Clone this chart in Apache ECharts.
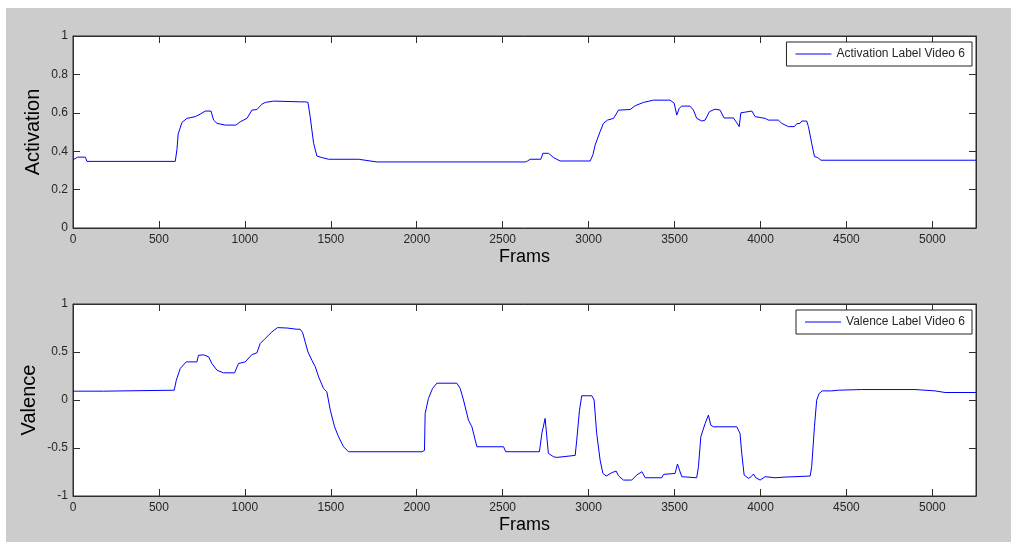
<!DOCTYPE html>
<html>
<head>
<meta charset="utf-8">
<script src="https://cdn.jsdelivr.net/npm/echarts@6/dist/echarts.min.js"></script>
<style>
  html, body { margin: 0; padding: 0; background: #ffffff; }
  #main { position: absolute; left: 6px; top: 8px; width: 1005px; height: 534px; }
</style>
</head>
<body>
<div id="main"></div>
<script>
// activation label, video 6 (frame)
var actFrames = [0, 27, 72, 81, 595, 605, 612, 634, 663, 711, 740, 770, 803, 818, 838, 886, 948, 973, 1012, 1041,
  1070, 1099, 1119, 1167, 1322, 1351, 1367, 1380, 1390, 1400, 1419, 1448, 1487, 1661, 1671, 1768, 2631, 2645, 2660, 2722,
  2734, 2767, 2796, 2834, 3009, 3025, 3038, 3067, 3086, 3110, 3145, 3174, 3242, 3271, 3319, 3377, 3474, 3498, 3513, 3527,
  3542, 3590, 3610, 3629, 3659, 3678, 3703, 3736, 3765, 3788, 3843, 3862, 3876, 3886, 3897, 3950, 3969, 4027, 4046, 4104,
  4124, 4162, 4197, 4211, 4230, 4240, 4269, 4279, 4298, 4314, 4333, 4352, 5254];
var actValues = [0.355, 0.369, 0.369, 0.347, 0.347, 0.41, 0.49, 0.55, 0.571, 0.58, 0.593, 0.609, 0.609, 0.562, 0.545, 0.536, 0.536, 0.553, 0.571, 0.614,
  0.617, 0.645, 0.654, 0.661, 0.657, 0.657, 0.655, 0.58, 0.51, 0.441, 0.375, 0.367, 0.358, 0.358, 0.349, 0.344, 0.344, 0.349, 0.358, 0.358,
  0.389, 0.389, 0.367, 0.349, 0.349, 0.381, 0.432, 0.502, 0.545, 0.562, 0.571, 0.614, 0.617, 0.637, 0.654, 0.666, 0.666, 0.65, 0.588, 0.623,
  0.635, 0.635, 0.614, 0.571, 0.557, 0.562, 0.606, 0.619, 0.614, 0.573, 0.573, 0.548, 0.528, 0.6, 0.609, 0.609, 0.58, 0.571, 0.562, 0.562,
  0.545, 0.528, 0.528, 0.543, 0.545, 0.557, 0.557, 0.528, 0.441, 0.372, 0.367, 0.353, 0.353];

// valence label, video 6
var valFrames = [0, 178, 185, 589, 601, 624, 659, 721, 730, 760, 789, 808, 838, 876, 940, 963, 1002, 1041, 1070, 1089,
  1118, 1157, 1190, 1245, 1303, 1322, 1336, 1347, 1367, 1390, 1410, 1429, 1458, 1477, 1497, 1522, 1545, 1574, 1603, 2030,
  2045, 2049, 2068, 2092, 2117, 2233, 2253, 2272, 2301, 2321, 2350, 2505, 2518, 2714, 2728, 2747, 2757, 2766, 2796, 2815,
  2922, 2931, 2947, 2960, 3019, 3032, 3047, 3067, 3083, 3102, 3135, 3160, 3174, 3203, 3251, 3280, 3310, 3329, 3426, 3436,
  3503, 3517, 3528, 3542, 3629, 3639, 3653, 3678, 3697, 3711, 3726, 3862, 3881, 3891, 3905, 3930, 3945, 3959, 3973, 3998,
  4027, 4085, 4143, 4289, 4298, 4314, 4327, 4341, 4359, 4414, 4453, 4589, 4899, 5016, 5074, 5254];
var valValues = [0.092, 0.092, 0.102, 0.102, 0.206, 0.328, 0.397, 0.397, 0.466, 0.47, 0.45, 0.38, 0.31, 0.283, 0.283, 0.38, 0.397, 0.473, 0.491, 0.588,
  0.64, 0.709, 0.754, 0.75, 0.737, 0.737, 0.702, 0.695, 0.501, 0.414, 0.345, 0.241, 0.12, 0.085, -0.106, -0.279, -0.383, -0.487, -0.539, -0.539,
  -0.525, -0.14, 0.016, 0.12, 0.175, 0.175, 0.12, 0.0, -0.21, -0.279, -0.487, -0.487, -0.539, -0.539, -0.348, -0.192, -0.21, -0.556, -0.591, -0.598,
  -0.577, -0.418, -0.106, 0.044, 0.044, 0.0, -0.348, -0.626, -0.764, -0.792, -0.757, -0.74, -0.79, -0.834, -0.834, -0.782, -0.747, -0.81, -0.81, -0.775,
  -0.765, -0.667, -0.677, -0.799, -0.81, -0.695, -0.383, -0.244, -0.158, -0.262, -0.279, -0.279, -0.348, -0.556, -0.782, -0.816, -0.8, -0.771, -0.81, -0.834,
  -0.799, -0.81, -0.803, -0.792, -0.695, -0.279, -0.002, 0.068, 0.095, 0.095, 0.102, 0.109, 0.109, 0.095, 0.078, 0.078];

var frameMax = 5254;
var frameStep = 500;

var pairs = function(xs, ys){
  var out = [];
  for(var i = 0; i < xs.length; i++){
    out.push([xs[i], ys[i]]);
  }
  return out;
};

var FONT = 'Liberation Sans, Arial, sans-serif';
var AXIS_COLOR = '#2e2e2e';
var TEXT_COLOR = '#262626';

// plain numbers, no thousands separator (matlab style)
var plain = function(v){ return String(v); };

var xAxisFor = function(gridIndex, pos){
  var main = pos === 'bottom';
  return {
    type: 'value', gridIndex: gridIndex, position: pos,
    min: 0, max: frameMax, interval: frameStep,
    name: main ? 'Frams' : '', nameLocation: 'middle', nameGap: 20, nameMoveOverlap: false,
    nameTextStyle: {fontFamily: FONT, fontSize: 18, color: '#000'},
    axisLine: {show: true, onZero: false, lineStyle: {color: AXIS_COLOR, width: 1}},
    axisTick: {show: true, inside: true, length: 7, lineStyle: {color: AXIS_COLOR}},
    axisLabel: {show: main, showMaxLabel: false, margin: 6, formatter: plain, fontFamily: FONT, fontSize: 12, color: TEXT_COLOR},
    splitLine: {show: false}
  };
};

var yAxisFor = function(gridIndex, pos, name, min, max, step, gap){
  var main = pos === 'left';
  return {
    type: 'value', gridIndex: gridIndex, position: pos,
    min: min, max: max, interval: step,
    name: main ? name : '', nameLocation: 'middle', nameGap: gap, nameMoveOverlap: false,
    nameTextStyle: {fontFamily: FONT, fontSize: 20, color: '#000'},
    axisLine: {show: true, onZero: false, lineStyle: {color: AXIS_COLOR, width: 1}},
    axisTick: {show: true, inside: true, length: 7, lineStyle: {color: AXIS_COLOR}},
    axisLabel: {show: main, margin: 5, formatter: plain, fontFamily: FONT, fontSize: 12, color: TEXT_COLOR},
    splitLine: {show: false}
  };
};

var legendFor = function(name, top){
  return {
    data: [name], right: 39, top: top,
    orient: 'horizontal',
    backgroundColor: '#ffffff', borderColor: '#222', borderWidth: 1, borderRadius: 0,
    padding: [6, 7, 6, 9],
    icon: 'rect', itemWidth: 36, itemHeight: 1, itemGap: 0,
    textStyle: {fontFamily: FONT, fontSize: 12, color: TEXT_COLOR}
  };
};

var chart = echarts.init(document.getElementById('main'), null, {renderer: 'canvas'});
chart.setOption({
  backgroundColor: '#cccccc',
  animation: false,
  grid: [
    {left: 67, right: 35, top: 28, height: 192, show: true, backgroundColor: '#ffffff', borderColor: AXIS_COLOR, borderWidth: 1},
    {left: 67, right: 35, top: 296, height: 192, show: true, backgroundColor: '#ffffff', borderColor: AXIS_COLOR, borderWidth: 1}
  ],
  legend: [
    legendFor('Activation Label Video 6', 34),
    legendFor('Valence Label Video 6', 302)
  ],
  xAxis: [
    xAxisFor(0, 'bottom'), xAxisFor(0, 'top'),
    xAxisFor(1, 'bottom'), xAxisFor(1, 'top')
  ],
  yAxis: [
    yAxisFor(0, 'left', 'Activation', 0, 1, 0.2, 30), yAxisFor(0, 'right', '', 0, 1, 0.2, 0),
    yAxisFor(1, 'left', 'Valence', -1, 1, 0.5, 34), yAxisFor(1, 'right', '', -1, 1, 0.5, 0)
  ],
  series: [
    {
      name: 'Activation Label Video 6', type: 'line', xAxisIndex: 0, yAxisIndex: 0,
      data: pairs(actFrames, actValues), symbol: 'none', smooth: false,
      lineStyle: {color: '#0000ff', width: 1}, itemStyle: {color: '#0000ff'}
    },
    {
      name: 'Valence Label Video 6', type: 'line', xAxisIndex: 2, yAxisIndex: 2,
      data: pairs(valFrames, valValues), symbol: 'none', smooth: false,
      lineStyle: {color: '#0000ff', width: 1}, itemStyle: {color: '#0000ff'}
    }
  ]
});
</script>
</body>
</html>
